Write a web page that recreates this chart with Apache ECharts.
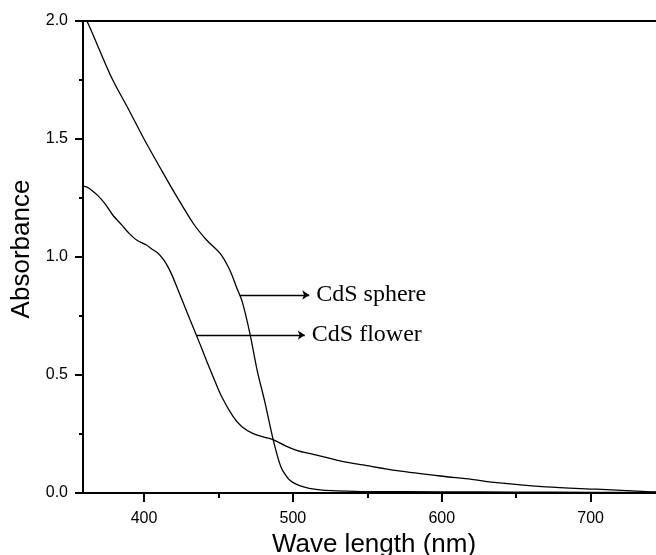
<!DOCTYPE html>
<html>
<head>
<meta charset="utf-8">
<script src="https://cdn.jsdelivr.net/npm/echarts@6/dist/echarts.min.js"></script>
<style>html,body{margin:0;padding:0;background:#fff;}#c{width:656px;height:555px;}</style>
</head>
<body>
<div id="c"></div>
<script>
// Data
const sphereX = [359,362,370,379,390,400,412,422,433,442,451,457.6,462,466,471,476,481,487,492,497,500,505,511,520,530,550,600,650,700,750];
const sphereY = [2.02,1.995,1.878,1.75,1.621,1.50,1.365,1.256,1.143,1.072,1.016,0.945,0.874,0.81,0.68,0.52,0.39,0.22,0.11,0.06,0.045,0.03,0.02,0.012,0.009,0.006,0.005,0.004,0.003,0.002];
const flowerX = [359,362,365,369,373.6,379,385,390,395,401.6,405,409.4,413,416,419,422,427.4,431,437.4,442,446.4,452,460,466,473,480,487,495,503,511,525,534,547,570,599,620,637,670,704,738,750];
const flowerY = [1.30,1.295,1.282,1.26,1.227,1.178,1.136,1.10,1.072,1.051,1.035,1.016,0.99,0.959,0.92,0.874,0.789,0.733,0.634,0.56,0.493,0.41,0.323,0.28,0.253,0.238,0.225,0.20,0.18,0.168,0.147,0.133,0.119,0.095,0.072,0.058,0.044,0.026,0.016,0.006,0.004];
const xMajorTicks = [400,500,600,700];
const xMinorTicks = [450,550,650,750];
const annoLabels = ['CdS sphere','CdS flower'];
const annoY = [0.839,0.669];
const annoXStart = [464.3,435.2];
const annoXEnd = [511,508];

const pair = (xs, ys) => xs.map((x, i) => [x, ys[i]]);
const anno = (i) => ({
  silent: true,
  symbol: ['none','arrow'],
  symbolSize: 7,
  lineStyle: {color:'#000', width:1.3, type:'solid'},
  itemStyle: {color:'#000'},
  label: {show:true, position:'end', distance:7, formatter: annoLabels[i], color:'#000', fontFamily:'Liberation Serif', fontSize:24},
  data: [[{coord:[annoXStart[i], annoY[i]]},{coord:[annoXEnd[i], annoY[i]]}]]
});

const chart = echarts.init(document.getElementById('c'), null, {renderer:'canvas'});
const axFont = {fontFamily:'Liberation Sans', fontSize:16, color:'#000'};
chart.setOption({
  animation: false,
  backgroundColor: '#fff',
  grid: {left:83, right:-9, top:21, bottom:62, containLabel:false, outerBoundsMode:'none'},
  xAxis: [
    {type:'value', min:359, max:750, position:'bottom',
     name:'Wave length (nm)', nameLocation:'middle', nameGap:34,
     nameTextStyle:{fontFamily:'Liberation Sans', fontSize:26, color:'#000'},
     axisLine:{show:true, onZero:false, lineStyle:{color:'#000', width:2}},
     axisTick:{show:true, inside:false, length:9, customValues:xMajorTicks, lineStyle:{color:'#000', width:2}},
     axisLabel:Object.assign({show:true, margin:18, customValues:xMajorTicks}, axFont),
     splitLine:{show:false}},
    {type:'value', min:359, max:750, position:'bottom',
     axisLine:{show:false},
     axisTick:{show:true, inside:false, length:5, customValues:xMinorTicks, lineStyle:{color:'#000', width:2}},
     axisLabel:{show:false}, splitLine:{show:false}},
    {type:'value', min:359, max:750, position:'top',
     axisLine:{show:true, onZero:false, lineStyle:{color:'#000', width:2}},
     axisTick:{show:false}, axisLabel:{show:false}, splitLine:{show:false}}
  ],
  yAxis: {type:'value', min:0, max:2, interval:0.5,
    name:'Absorbance', nameLocation:'middle', nameGap:45,
    nameTextStyle:{fontFamily:'Liberation Sans', fontSize:26, color:'#000', padding:[0,0,0,16]},
    axisLine:{show:true, onZero:false, lineStyle:{color:'#000', width:2}},
    axisTick:{show:true, inside:false, length:8, lineStyle:{color:'#000', width:2}},
    minorTick:{show:true, splitNumber:2, length:4, lineStyle:{color:'#000', width:2}},
    axisLabel:Object.assign({margin:15, formatter:(v)=>v.toFixed(1)}, axFont),
    splitLine:{show:false}, minorSplitLine:{show:false}},
  series: [
    {type:'line', name:'CdS sphere', data:pair(sphereX, sphereY), showSymbol:false, smooth:0.3,
     lineStyle:{color:'#000', width:1.3}, xAxisIndex:0, markLine:anno(0), z:3},
    {type:'line', name:'CdS flower', data:pair(flowerX, flowerY), showSymbol:false, smooth:0.3,
     lineStyle:{color:'#000', width:1.3}, xAxisIndex:0, markLine:anno(1), z:3}
  ]
});
</script>
</body>
</html>
